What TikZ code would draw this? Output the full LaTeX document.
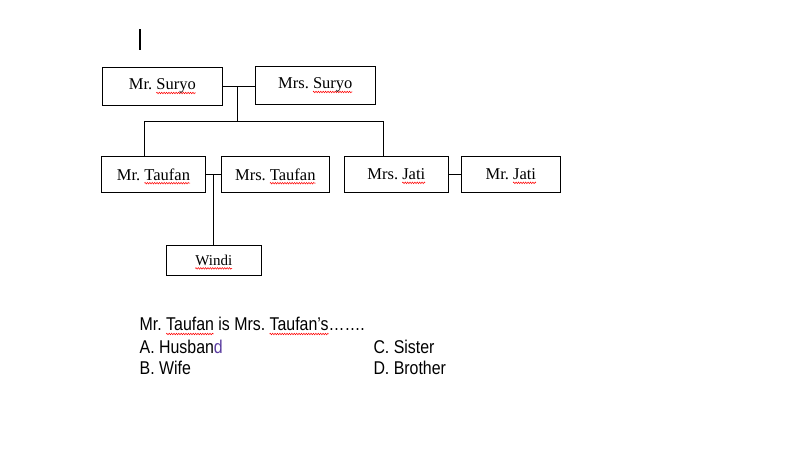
\documentclass[tikz,border=0pt]{standalone}
\usepackage{fontspec}
\setmainfont{Liberation Serif}
\newfontfamily\qfont[FakeStretch=0.86]{Liberation Sans}
\usetikzlibrary{decorations.pathmorphing}
\frenchspacing
\newlength\wavylen
\newcommand\wavy[1]{\settowidth\wavylen{#1}\leavevmode\rlap{\tikz[overlay]\draw[draw=red,line width=0.5pt,decorate,decoration={zigzag,amplitude=0.8pt,segment length=2.4pt}] (0pt,-3pt) -- (\wavylen,-3pt);}#1}
\tikzset{
  person/.style={draw=black,line width=1pt,inner sep=0pt,font=\fontsize{16.5}{19}\selectfont},
  qtext/.style={inner sep=0pt,anchor=base west,font=\qfont\fontsize{18.5}{22}\selectfont},
  link/.style={draw=black,line width=1pt}
}
\begin{document}
\begin{tikzpicture}[x=1pt,y=-1pt]
\useasboundingbox[fill=white] (0,0) rectangle (804,470);
% text cursor
\coordinate (cur1) at (139.5,29.5);
\coordinate (cur2) at (139.5,50.5);
\draw[line width=2pt] (cur1) -- (cur2);
% boxes
\node[person,minimum width=120pt,minimum height=38pt] (suryo) at (162.3,86.3) {Mr. \wavy{Suryo}};
\node[person,minimum width=120pt,minimum height=38pt] (msuryo) at (315.3,85.3) {Mrs. \wavy{Suryo}};
\node[person,minimum width=103.6pt,minimum height=35.6pt] (taufan) at (153.5,174.5) {Mr. \wavy{Taufan}};
\node[person,minimum width=108pt,minimum height=35.6pt] (mtaufan) at (275.3,174.5) {Mrs. \wavy{Taufan}};
\node[person,minimum width=104pt,minimum height=35.6pt] (mjati) at (396.3,174.5) {Mrs. \wavy{Jati}};
\node[person,minimum width=99pt,minimum height=35.6pt] (jati) at (510.8,174.5) {Mr. \wavy{Jati}};
\node[person,minimum width=94.7pt,minimum height=30pt,font=\fontsize{15}{18}\selectfont] (windi) at (213.8,260.3) {\wavy{Windi}};
% connectors
\coordinate (sj) at (237.3,86.3);
\coordinate (bar) at (237.3,122);
\coordinate (tl) at (144.3,122);
\coordinate (tr) at (383.3,122);
\coordinate (tj) at (213.3,174.5);
\draw[link] (suryo.east) -- (suryo.east -| msuryo.west);
\draw[link] (sj) -- (bar);
\draw[link] (tl |- taufan.north) -- (tl) -- (tr) -- (tr |- mjati.north);
\draw[link] (taufan.east) -- (mtaufan.west);
\draw[link] (tj) -- (tj |- windi.north);
\draw[link] (mjati.east) -- (jati.west);
% question
\node[qtext] (q) at (139.5,331) {Mr. \wavy{Taufan} is Mrs. \wavy{Taufan’s}…….};
\node[qtext] (a) at (139.5,353.3) {A. Husban{\color[HTML]{5A3CA0}d}};
\node[qtext] (b) at (139.5,374.6) {B. Wife};
\node[qtext] (c) at (373.3,353.3) {C. Sister};
\node[qtext] (d) at (373.3,374.8) {D. Brother};
\end{tikzpicture}
\end{document}
